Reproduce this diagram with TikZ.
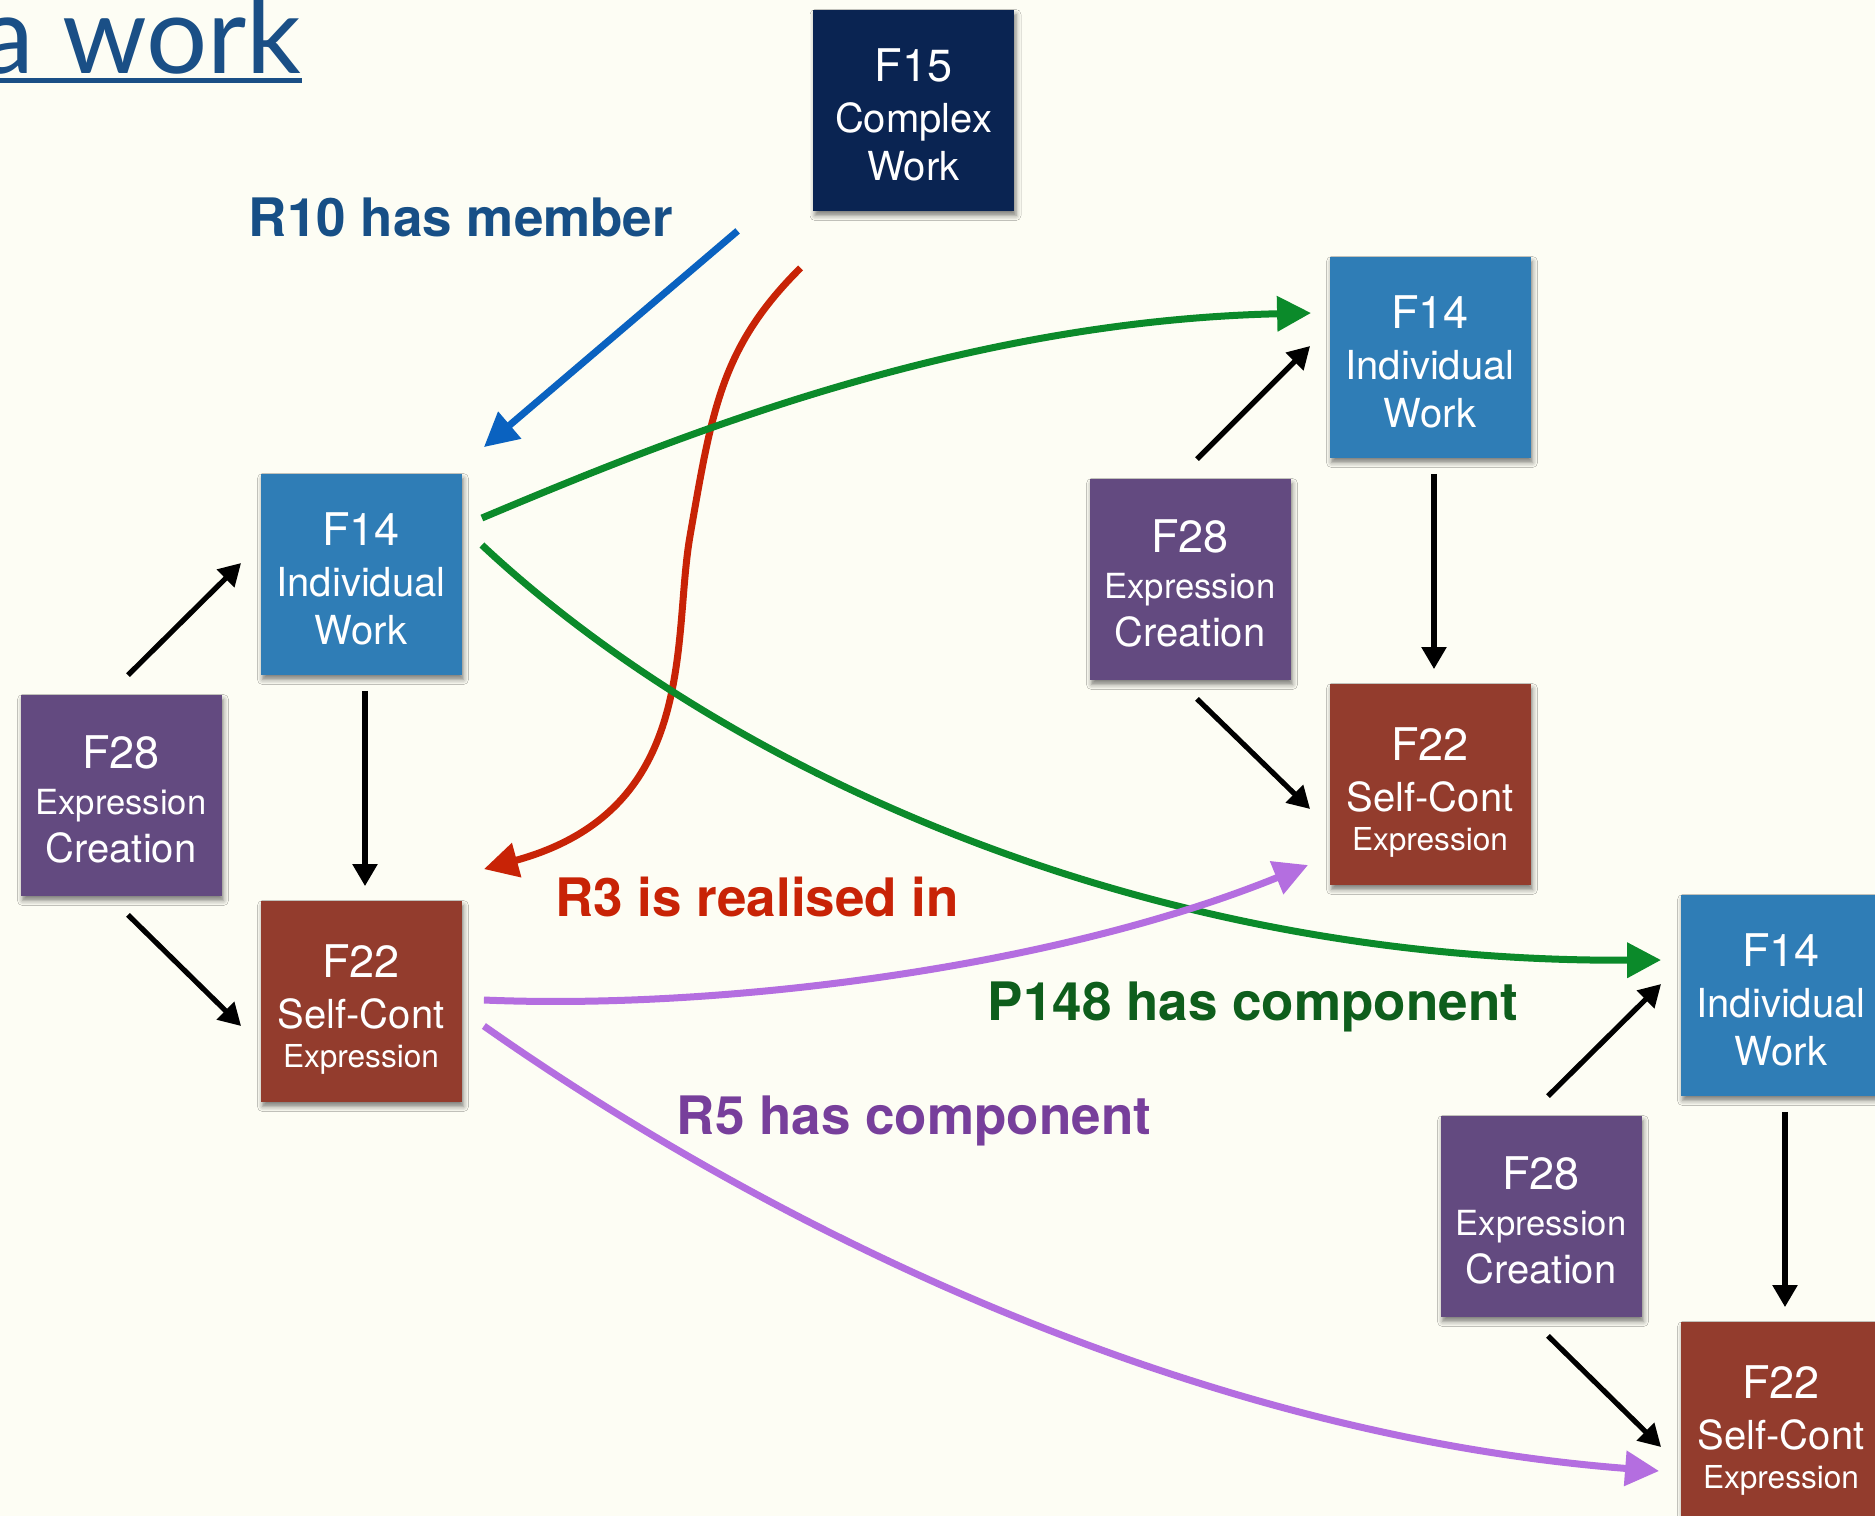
\documentclass[tikz,border=0pt]{standalone}
\usepackage{fontspec}
\setmainfont{TeX Gyre Heros}
\newfontfamily\titlefont{Lato}
\usetikzlibrary{arrows.meta,calc,shadows.blur}
\definecolor{bg}{HTML}{FDFDF4}
\definecolor{cFfifteen}{HTML}{0A2452}
\definecolor{cFfourteen}{HTML}{2F7DB6}
\definecolor{cFtwentyeight}{HTML}{634A80}
\definecolor{cFtwentytwo}{HTML}{933C2D}
\definecolor{titleblue}{HTML}{1A4F86}
\definecolor{lblblue}{HTML}{174F86}
\definecolor{arrblue}{HTML}{0A62C0}
\definecolor{arrred}{HTML}{C82306}
\definecolor{arrgreen}{HTML}{0B8A2A}
\definecolor{lblgreen}{HTML}{0E5E1C}
\definecolor{arrpurple}{HTML}{B46EE0}
\definecolor{lblpurple}{HTML}{773F9B}
% #1-#3 lines, #4-#5 sizes of lines 2/3, #6-#7 extra line skips, #8 strut height
\newcommand\boxtxt[8]{{\fontsize{22.5}{24}\selectfont\rule{0pt}{#8}#1}\\[#6]{\fontsize{#4}{24}\selectfont #2}\\[#7]{\fontsize{#5}{24}\selectfont #3}}
\begin{document}
\begin{tikzpicture}[x=0.5pt,y=-0.5pt,
  frbox/.style={minimum width=100.5pt, minimum height=100.5pt, inner sep=0pt,
    text=white, align=center, font=\fontsize{20}{24}\selectfont,
    blur shadow={shadow xshift=1pt, shadow yshift=-2.5pt, shadow blur radius=2.5pt, shadow opacity=50}},
  workbox/.style={frbox, fill=cFfourteen},
  creabox/.style={frbox, fill=cFtwentyeight},
  exprbox/.style={frbox, fill=cFtwentytwo},
  blk/.style={line width=2.6pt, -{Triangle[length=11pt,width=12pt]}},
  rel/.style={line width=3.5pt, -{Triangle[length=17pt,width=17pt]}},
  lbl/.style={font=\fontsize{26.5}{30}\selectfont\bfseries}]
\useasboundingbox (0,0) rectangle (1875,1516);
\fill[bg] (0,0) rectangle (1875,1516);
\clip (0,0) rectangle (1875,1516);

% title
\node[anchor=base east, inner sep=0pt, text=titleblue,
  font=\titlefont\fontsize{54}{60}\selectfont] (title) at (302,73) {a work};
\fill[titleblue] (-5,78) rectangle (302,83);

% boxes
\node[frbox, fill=cFfifteen] (f15) at (913.5,110) {\boxtxt{F15}{Complex}{Work}{20}{20}{1.5pt}{0pt}{21pt}};

\node[workbox] (f14l) at (361,574) {\boxtxt{F14}{Individual}{Work}{20}{20}{1.5pt}{0pt}{21pt}};
\node[creabox] (f28l) at (121,795) {\boxtxt{F28}{Expression}{Creation}{17.3}{20}{-1.25pt}{0.25pt}{21pt}};
\node[exprbox] (f22l) at (361,1001) {\boxtxt{F22}{Self-Cont}{Expression}{20}{15.8}{1.5pt}{-4.75pt}{25pt}};

\node[workbox] (f14r) at (1430,357) {\boxtxt{F14}{Individual}{Work}{20}{20}{1.5pt}{0pt}{21pt}};
\node[creabox] (f28m) at (1190,579) {\boxtxt{F28}{Expression}{Creation}{17.3}{20}{-1.25pt}{0.25pt}{21pt}};
\node[exprbox] (f22m) at (1430,784) {\boxtxt{F22}{Self-Cont}{Expression}{20}{15.8}{1.5pt}{-4.75pt}{25pt}};

\node[workbox] (f14b) at (1781,995) {\boxtxt{F14}{Individual}{Work}{20}{20}{1.5pt}{0pt}{21pt}};
\node[creabox] (f28b) at (1541,1216) {\boxtxt{F28}{Expression}{Creation}{17.3}{20}{-1.25pt}{0.25pt}{21pt}};
\node[exprbox] (f22b) at (1781,1422) {\boxtxt{F22}{Self-Cont}{Expression}{20}{15.8}{1.5pt}{-4.75pt}{25pt}};

% black arrows (creation / realisation)
\foreach \c/\w/\e in {f28l/f14l/f22l, f28m/f14r/f22m, f28b/f14b/f22b}{
  \draw[blk] ($(\c.north)+(7,-19)$) -- ($(\w.west)+(-19,-11)$);
  \draw[blk] ($(\c.south)+(7,19)$) -- ($(\e.west)+(-19,25)$);
  \draw[blk] ($(\w.south)+(4,16)$) -- ($(\e.north)+(4,-14)$);
}

% R10 has member
\draw[rel, arrblue] ($(f15.south west)+(-75,20)$) -- ($(f14l.north east)+(22,-26)$);
% R3 is realised in
\draw[rel, arrred] ($(f15.south west)+(-12,57)$) .. controls (721,347) and (712,410) .. (690,536)
  .. controls (672,640) and (700,810) .. ($(f22l.north east)+(22,-31)$);
% P148 has component
\draw[rel, arrgreen] ($(f14l.east)+(20,-56)$) .. controls (670,439) and (957,321) .. ($(f14r.west)+(-18,-44)$);
\draw[rel, arrgreen] ($(f14l.east)+(20,-29)$) .. controls (717,765) and (1136,963) .. ($(f14b.west)+(-19,-35)$);
% R5 has component
\draw[rel, arrpurple] ($(f22l.east)+(22,-1)$) .. controls (717,1010) and (1052,969) .. ($(f22m.west)+(-21,81)$);
\draw[rel, arrpurple] ($(f22l.east)+(22,25)$) .. controls (777,1232) and (1196,1435) .. ($(f22b.west)+(-21,49)$);

% labels
\node[lbl, text=lblblue] (l10) at (461,217) {R10 has member};
\node[lbl, text=arrred] (l3) at (757,897) {R3 is realised in};
\node[lbl, text=lblgreen] (l148) at (1253,1007) {P148 has component};
\node[lbl, text=lblpurple] (l5) at (914,1121) {R5 has component};
\end{tikzpicture}
\end{document}
